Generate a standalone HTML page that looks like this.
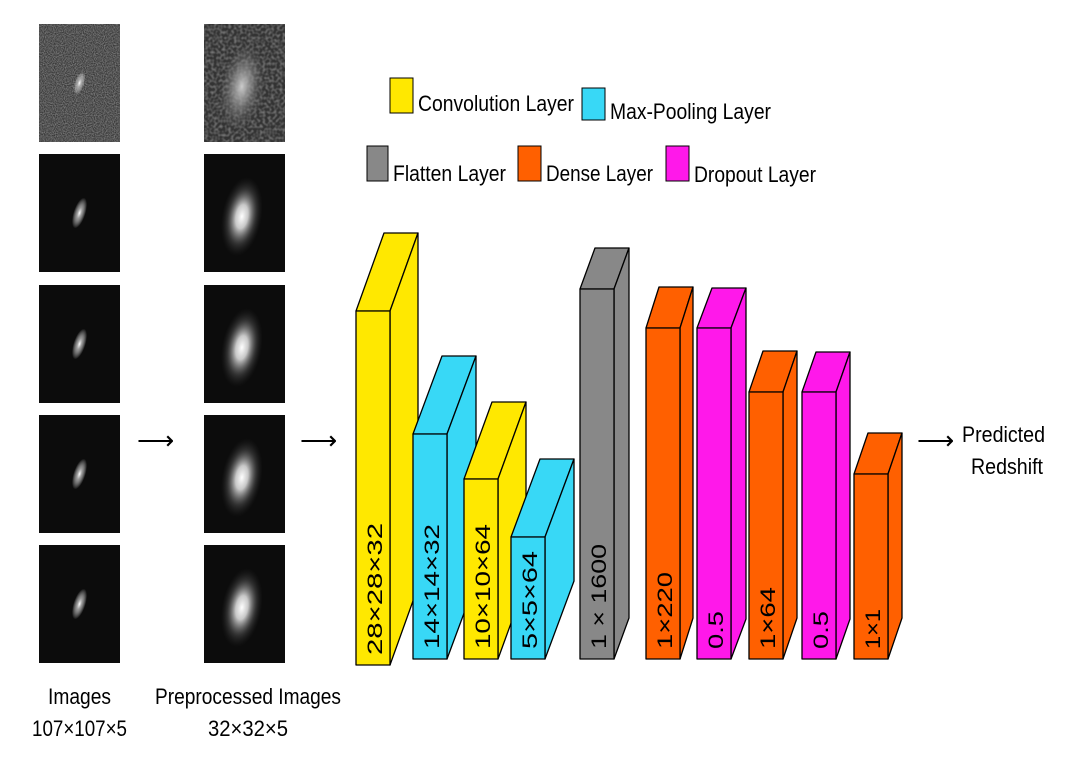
<!DOCTYPE html>
<html><head><meta charset="utf-8"><style>
html,body{margin:0;padding:0;background:#fff;}
svg{display:block;}
text{font-family:"Liberation Sans",sans-serif;}
</style></head><body>
<svg id="s" width="1087" height="765" viewBox="0 0 1087 765" xmlns="http://www.w3.org/2000/svg">
<defs>
<filter id="noise" x="0" y="0" width="100%" height="100%"><feTurbulence type="fractalNoise" baseFrequency="0.9" numOctaves="1" seed="3"/><feColorMatrix type="matrix" values="0 0 0 0 0.3  0 0 0 0 0.3  0 0 0 0 0.3  0 0 0 1.6 -0.5"/></filter>
<filter id="noise2" x="0" y="0" width="100%" height="100%"><feTurbulence type="fractalNoise" baseFrequency="0.35" numOctaves="1" seed="7"/><feColorMatrix type="matrix" values="0 0 0 0 0.3  0 0 0 0 0.3  0 0 0 0 0.3  0 0 0 1.5 -0.55"/></filter>
<radialGradient id="g1"><stop offset="0" stop-color="#fff"/><stop offset="0.35" stop-color="#bbb" stop-opacity="0.8"/><stop offset="1" stop-color="#fff" stop-opacity="0"/></radialGradient>
<radialGradient id="g2"><stop offset="0" stop-color="#fff"/><stop offset="0.3" stop-color="#ddd" stop-opacity="0.9"/><stop offset="0.7" stop-color="#666" stop-opacity="0.4"/><stop offset="1" stop-color="#333" stop-opacity="0"/></radialGradient>
<radialGradient id="g3"><stop offset="0" stop-color="#ccc"/><stop offset="0.4" stop-color="#999" stop-opacity="0.7"/><stop offset="1" stop-color="#555" stop-opacity="0"/></radialGradient>
</defs>
<g id="imgs"></g>
<g id="blocks"></g>
<g font-size="22">
<rect x="390" y="78" width="23" height="35" fill="#ffe800" stroke="#000"/>
<text x="418" y="111" textLength="156" lengthAdjust="spacingAndGlyphs">Convolution Layer</text>
<rect x="582" y="88" width="23" height="32" fill="#38d8f6" stroke="#000"/>
<text x="610" y="119" textLength="161" lengthAdjust="spacingAndGlyphs">Max-Pooling Layer</text>
<rect x="367" y="146" width="21" height="35" fill="#888" stroke="#000"/>
<text x="393" y="181" textLength="113" lengthAdjust="spacingAndGlyphs">Flatten Layer</text>
<rect x="518" y="146" width="23" height="35" fill="#ff6000" stroke="#000"/>
<text x="546" y="181" textLength="107" lengthAdjust="spacingAndGlyphs">Dense Layer</text>
<rect x="666" y="146" width="23" height="35" fill="#ff18ea" stroke="#000"/>
<text x="694" y="182" textLength="122" lengthAdjust="spacingAndGlyphs">Dropout Layer</text>
</g>
<g font-size="22">
<text x="137" y="449" font-family="DejaVu Sans" font-size="26">⟶</text>
<text x="300" y="449" font-family="DejaVu Sans" font-size="26">⟶</text>
<text x="917" y="449" font-family="DejaVu Sans" font-size="26">⟶</text>
<text x="962" y="442" textLength="83" lengthAdjust="spacingAndGlyphs">Predicted</text>
<text x="971" y="474" textLength="72" lengthAdjust="spacingAndGlyphs">Redshift</text>
<text x="48" y="704" textLength="63" lengthAdjust="spacingAndGlyphs">Images</text>
<text x="32" y="736" textLength="95" lengthAdjust="spacingAndGlyphs">107×107×5</text>
<text x="155" y="704" textLength="186" lengthAdjust="spacingAndGlyphs">Preprocessed Images</text>
<text x="208" y="736" textLength="80" lengthAdjust="spacingAndGlyphs">32×32×5</text>
</g>
</svg>
<script>
const NS="http://www.w3.org/2000/svg";
const layerLabels=["28×28×32","14×14×32","10×10×64","5×5×64","1 × 1600","1×220","0.5","1×64","0.5","1×1"];
const layerTypes=["conv","pool","conv","pool","flatten","dense","dropout","dense","dropout","dense"];
const layerHeights=[354,225,180,122,370,331,331,267,267,185];
const colors={conv:"#ffe800",pool:"#38d8f6",flatten:"#888888",dense:"#ff6000",dropout:"#ff18ea"};
const lefts=[356,413,464,511,580,646,697,749,802,854];
const bottoms=[665,659,659,659,659,659,659,659,659,659];
const depthX=[28,29,28,29,15,13,15,14,14,14];
const depthY=[78,78,77,78,41,41,40,41,40,41];
const labelLens=[132,125,125,98,105,77,38,62,38,40];
function el(t,a,p){const e=document.createElementNS(NS,t);for(const k in a)e.setAttribute(k,a[k]);p.appendChild(e);return e;}
const bg=document.getElementById('blocks');
layerLabels.forEach((lab,i)=>{
  const g=el('g',{},bg);
  
  
  const x=lefts[i],w=34,b=bottoms[i],t=b-layerHeights[i],dx=depthX[i],dy=depthY[i],c=colors[layerTypes[i]];
  const st={fill:c,stroke:"#000","stroke-width":1.3,"stroke-linejoin":"round"};
  el('polygon',Object.assign({points:`${x},${t} ${x+dx},${t-dy} ${x+w+dx},${t-dy} ${x+w},${t}`},st),g);
  el('polygon',Object.assign({points:`${x+w},${t} ${x+w+dx},${t-dy} ${x+w+dx},${b-dy} ${x+w},${b}`},st),g);
  el('rect',Object.assign({x:x,y:t,width:w,height:b-t},st),g);
  const tx=el('text',{x:0,y:0,"font-family":"DejaVu Sans","font-size":21,textLength:labelLens[i],lengthAdjust:"spacingAndGlyphs",transform:`translate(${x+w/2+9},${b-10}) rotate(-90)`},g);
  tx.textContent=lab;
  
  
});
const ig=document.getElementById('imgs');
const rowTops=[24,154,285,415,545];
rowTops.forEach((y,r)=>{
  [[39,0],[204,1]].forEach(([x,pre])=>{
    const g=el('g',{},ig);
    
    
    const h=118,w=81;
    el('rect',{x:x,y:y,width:w,height:h,fill:r==0?(pre?'#333':'#3a3a3a'):'#0c0c0c'},g);
    if(r==0) el('rect',{x:x,y:y,width:w,height:h,filter:pre?'url(#noise2)':'url(#noise)'},g);
    const cx=x+w/2,cy=y+h/2;
    if(pre){
      el('ellipse',{cx:cx-2,cy:cy+4,rx:r==0?22:20,ry:r==0?44:40,fill:r==0?'url(#g3)':'url(#g2)',transform:`rotate(10 ${cx} ${cy})`},g);
    } else {
      el('ellipse',{cx:cx,cy:cy,rx:r==0?5:6,ry:r==0?12:16,fill:'url(#g1)',transform:`rotate(18 ${cx} ${cy})`},g);
    }
  });
});
</script>
</body></html>
